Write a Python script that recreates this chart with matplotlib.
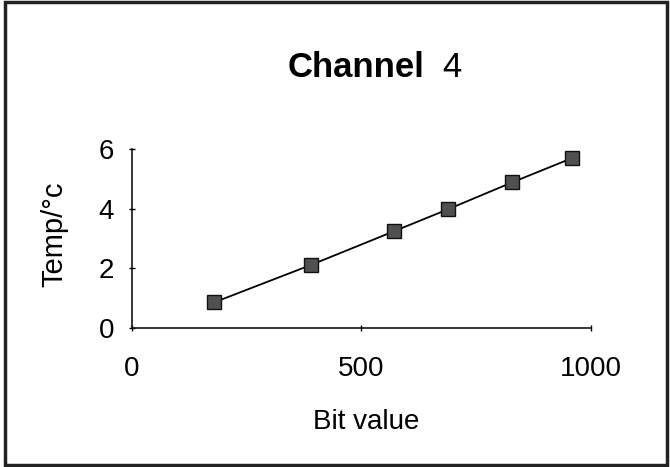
import matplotlib.pyplot as plt
from matplotlib.patches import Rectangle

# calibration readings for channel 4
bit_value = [179, 389, 570, 688, 829, 959]
temp_c = [0.86, 2.11, 3.24, 3.98, 4.89, 5.70]
x_ticks = [0, 500, 1000]
y_ticks = [0, 2, 4, 6]

plt.rcParams['font.family'] = ['Liberation Sans', 'DejaVu Sans']

fig = plt.figure(figsize=(6.7, 4.67), dpi=100)
ax = fig.add_axes([0.197, 0.2976, 0.685, 0.383])

ax.plot(bit_value, temp_c, color='black', linewidth=1.3,
        marker='s', markersize=10.5, markerfacecolor='#505050',
        markeredgecolor='#111111', markeredgewidth=1, clip_on=False)

ax.set_xlim(0, 1000)
ax.set_ylim(0, 6)
ax.set_xticks(x_ticks)
ax.set_yticks(y_ticks)
ax.tick_params(axis='x', direction='inout', length=4, width=1, pad=18, labelsize=20)
ax.tick_params(axis='y', direction='inout', length=4, width=1, pad=11, labelsize=20)

for side in ['top', 'right']:
    ax.spines[side].set_visible(False)
for side in ['left', 'bottom']:
    ax.spines[side].set_linewidth(1.1)

ax.set_xlabel('Bit value', fontsize=20, va='center')
ax.xaxis.set_label_coords(0.51, -0.525)
ax.set_ylabel('Temp/°c', fontsize=21, va='center')
ax.yaxis.set_label_coords(-0.17, 0.525)

# title: bold word, lighter channel number
fig.text(0.43, 0.855, 'Channel', fontsize=25, fontweight='bold',
         ha='left', va='center')
fig.text(0.66, 0.855, '4', fontsize=25, ha='left', va='center')

# frame around the whole chart
fig.patches.append(Rectangle((0.008, 0.005), 0.988, 0.99, transform=fig.transFigure,
                             fill=False, edgecolor='#222222', linewidth=2.5))

fig.savefig('out.png', dpi=100)
